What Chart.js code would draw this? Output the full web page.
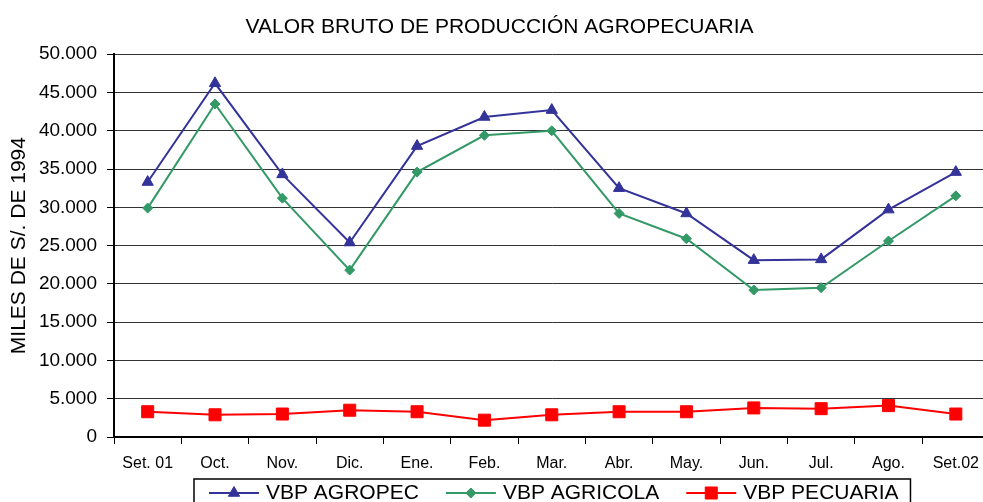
<!DOCTYPE html>
<html lang="es">
<head>
    <meta charset="UTF-8">
    <title>Valor Bruto de Producción Agropecuaria</title>
    <script src="https://cdn.jsdelivr.net/npm/chart.js@4.4.1/dist/chart.umd.min.js"></script>
    <style>
        html, body {
            margin: 0;
            padding: 0;
            background: #fff;
            overflow: hidden;
        }
        canvas { display: block; }
    </style>
</head>
<body>
    <canvas id="vbp-chart" width="999" height="502"></canvas>

    <script>
        // Data (miles de S/. de 1994)
        const months = ['Set. 01', 'Oct.', 'Nov.', 'Dic.', 'Ene.', 'Feb.', 'Mar.', 'Abr.', 'May.', 'Jun.', 'Jul.', 'Ago.', 'Set.02'];
        const vbpAgropec = [33300, 46200, 34300, 25400, 38000, 41800, 42700, 32500, 29200, 23100, 23200, 29700, 34600];
        const vbpAgricola = [29900, 43500, 31200, 21800, 34600, 39400, 40000, 29200, 25900, 19200, 19500, 25600, 31500];
        const vbpPecuaria = [3300, 2900, 3000, 3500, 3300, 2200, 2900, 3300, 3300, 3800, 3700, 4100, 3000];
        const yTicks = { min: 0, max: 50000, step: 5000 };

        const FONT = '"Liberation Sans", Arial, sans-serif';
        Chart.defaults.font.family = FONT;
        Chart.defaults.color = '#000';

        // thousands separator with a dot, e.g. 50.000
        function fmt(v) {
            return String(v).replace(/\B(?=(\d{3})+(?!\d))/g, '.');
        }

        // own marker drawing, used only if Chart.helpers is not exposed
        function marker(ctx, style, r, x, y) {
            ctx.beginPath();
            if (style === 'triangle') {
                ctx.moveTo(x, y - r);
                ctx.lineTo(x + r * 0.866, y + r / 2);
                ctx.lineTo(x - r * 0.866, y + r / 2);
            } else if (style === 'rectRot') {
                ctx.moveTo(x, y - r);
                ctx.lineTo(x + r, y);
                ctx.lineTo(x, y + r);
                ctx.lineTo(x - r, y);
            } else {
                const s = r * Math.SQRT1_2;
                ctx.rect(x - s, y - s, 2 * s, 2 * s);
            }
            ctx.closePath();
            ctx.fill();
            ctx.stroke();
        }

        // Excel style legend: framed box, line + marker samples
        const legendBox = {
            id: 'legendBox',
            afterDraw(chart) {
                const ctx = chart.ctx;
                const area = chart.chartArea;
                const lineLen = 50, textGap = 7, itemGap = 27, padL = 15, padR = 12;
                ctx.save();
                ctx.font = '21px ' + FONT;
                const items = chart.data.datasets.map(ds => ({ ds: ds, w: ctx.measureText(ds.label).width }));
                const total = padL + padR + itemGap * (items.length - 1) +
                    items.reduce((s, it) => s + lineLen + textGap + it.w, 0);
                const x0 = Math.round((area.left + area.right) / 2 - total / 2);
                const top = Math.round(area.bottom + 42);
                ctx.fillStyle = '#fff';
                ctx.fillRect(x0, top, total, 40);
                ctx.strokeStyle = '#000';
                ctx.lineWidth = 1.5;
                ctx.strokeRect(x0, top, total, 40);

                const cy = top + 14;
                let x = x0 + padL;
                items.forEach(it => {
                    const ds = it.ds;
                    ctx.strokeStyle = ds.borderColor;
                    ctx.lineWidth = ds.borderWidth;
                    ctx.beginPath();
                    ctx.moveTo(x, cy);
                    ctx.lineTo(x + lineLen, cy);
                    ctx.stroke();

                    ctx.fillStyle = ds.backgroundColor;
                    ctx.lineWidth = ds.pointBorderWidth;
                    if (Chart.helpers && Chart.helpers.drawPoint) {
                        Chart.helpers.drawPoint(ctx, {
                            pointStyle: ds.pointStyle,
                            radius: ds.pointRadius,
                            borderWidth: ds.pointBorderWidth,
                            rotation: 0
                        }, x + lineLen / 2, cy);
                    } else {
                        marker(ctx, ds.pointStyle, ds.pointRadius, x + lineLen / 2, cy);
                    }

                    ctx.fillStyle = '#000';
                    ctx.textAlign = 'left';
                    ctx.textBaseline = 'middle';
                    ctx.fillText(ds.label, x + lineLen + textGap, cy);
                    x += lineLen + textGap + it.w + itemGap;
                });
                ctx.restore();
            }
        };

        function series(label, data, color, style, radius) {
            return {
                label: label,
                data: data,
                borderColor: color,
                backgroundColor: color,
                borderWidth: 2,
                pointStyle: style,
                pointRadius: radius,
                pointHoverRadius: radius,
                pointBorderWidth: 1,
                pointBorderColor: color,
                pointBackgroundColor: color,
                tension: 0,
                fill: false
            };
        }

        new Chart(document.getElementById('vbp-chart'), {
            type: 'line',
            data: {
                labels: months,
                datasets: [
                    series('VBP AGROPEC', vbpAgropec, '#333399', 'triangle', 6.5),
                    series('VBP AGRICOLA', vbpAgricola, '#339966', 'rectRot', 5),
                    series('VBP PECUARIA', vbpPecuaria, '#ff0000', 'rect', 8.5)
                ]
            },
            options: {
                responsive: false,
                animation: false,
                layout: { padding: 0 },
                plugins: {
                    legend: { display: false },
                    tooltip: { enabled: false },
                    title: {
                        display: true,
                        text: 'VALOR BRUTO DE PRODUCCIÓN AGROPECUARIA',
                        color: '#000',
                        font: { size: 21, weight: 'normal' },
                        padding: { top: 15, bottom: 14 }
                    }
                },
                scales: {
                    x: {
                        offset: true,
                        grid: {
                            offset: true,
                            drawOnChartArea: false,
                            tickLength: 7,
                            tickColor: '#000',
                            lineWidth: 1
                        },
                        border: { color: '#000', width: 2 },
                        ticks: {
                            color: '#000',
                            font: { size: 16 },
                            padding: 10,
                            maxRotation: 0,
                            autoSkip: false
                        },
                        afterFit: function(scale) { scale.height = 65; }
                    },
                    y: {
                        min: yTicks.min,
                        max: yTicks.max,
                        ticks: {
                            stepSize: yTicks.step,
                            padding: 10,
                            color: '#000',
                            font: { size: 19 },
                            callback: function(v) { return fmt(v); }
                        },
                        grid: {
                            color: '#333',
                            lineWidth: 1,
                            tickLength: 7,
                            tickColor: '#000'
                        },
                        border: { color: '#000', width: 2 },
                        title: {
                            display: true,
                            text: 'MILES DE S/. DE 1994',
                            color: '#000',
                            font: { size: 21 },
                            padding: { top: 7, bottom: 0 }
                        },
                        afterFit: function(scale) { scale.width = 114; }
                    }
                }
            },
            plugins: [legendBox]
        });
    </script>
</body>
</html>
